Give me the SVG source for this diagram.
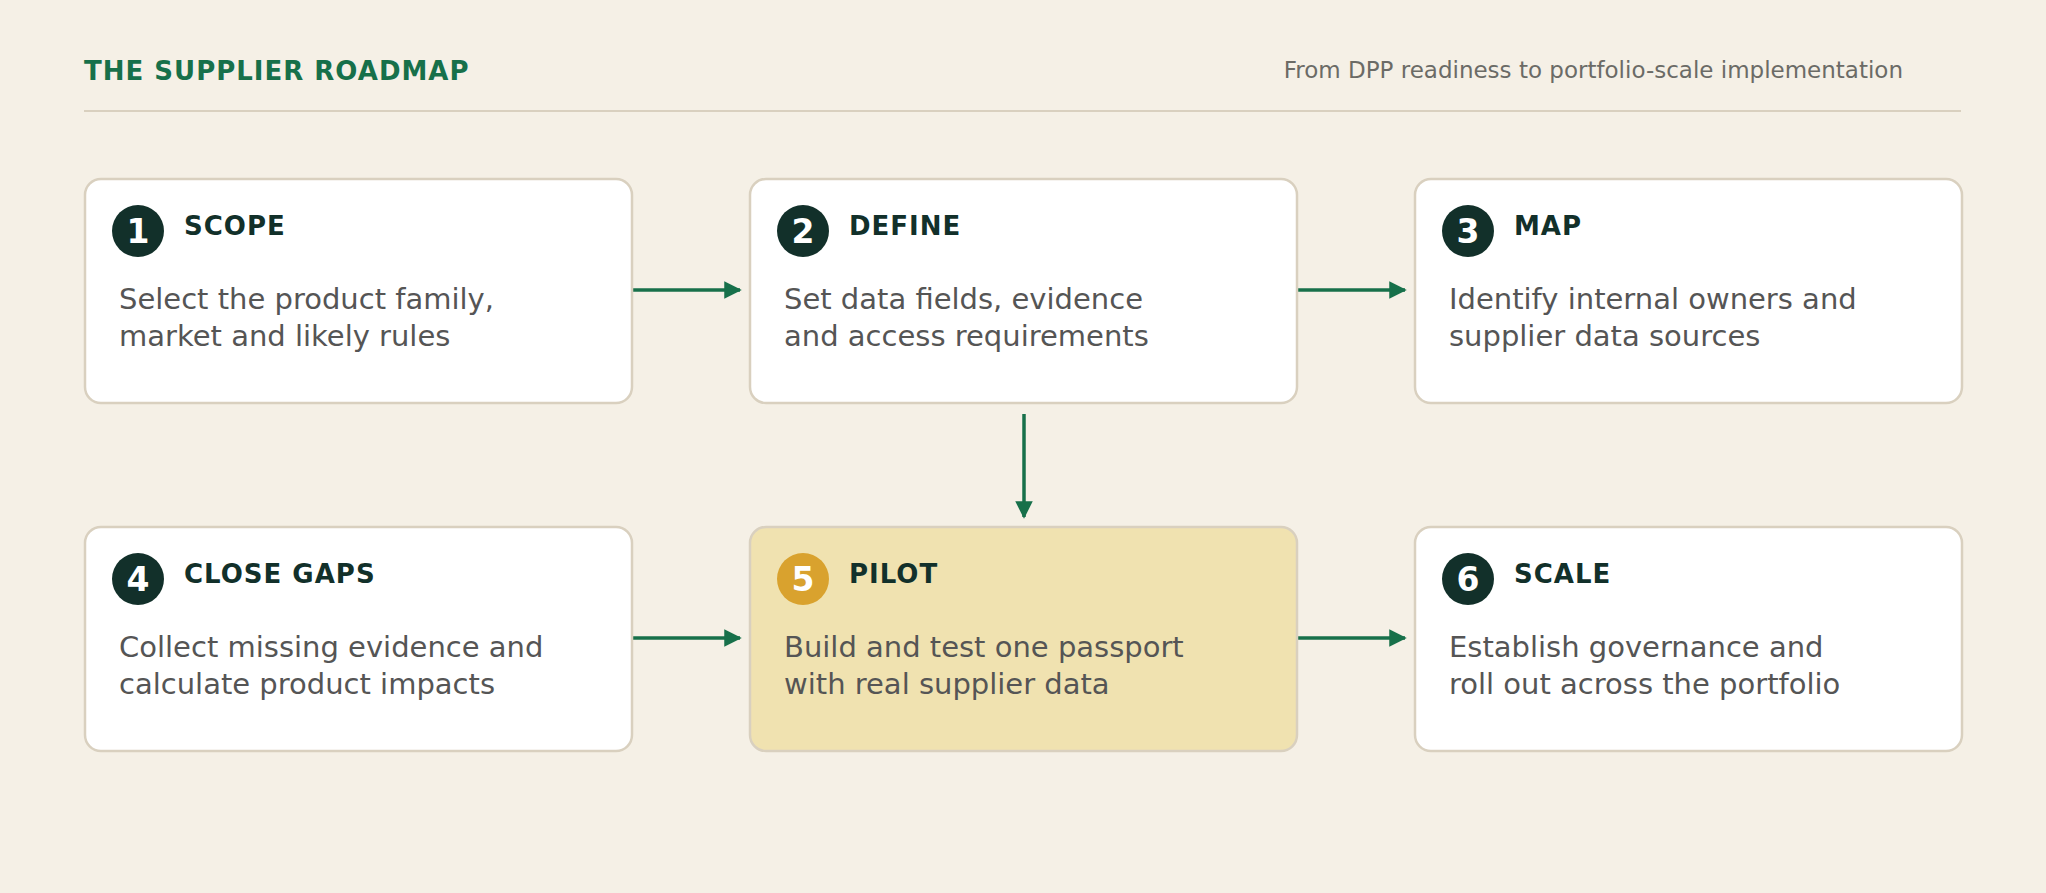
<svg xmlns="http://www.w3.org/2000/svg" width="2046" height="893" viewBox="0 0 2046 893">
<style>
text{font-family:"DejaVu Sans",sans-serif}
.box{fill:#fff;stroke:#D9D0BF;stroke-width:2.5}
.pilot{fill:#F0E2B0}
.num{fill:#fff;font-size:33px;font-weight:bold;text-anchor:middle}
.ttl{fill:#12302A;font-size:26px;font-weight:bold;letter-spacing:1px}
.body{fill:#555;font-size:29px}
.c{fill:#12302A}
.conn line{stroke:#17704A;stroke-width:3.5}
</style>
<defs><marker id="ah" viewBox="0 0 10 10" refX="9" refY="5" markerWidth="5" markerHeight="5" orient="auto" markerUnits="strokeWidth"><path d="M0,0L10,5L0,10z" fill="#17704A"/></marker></defs>
<rect width="2046" height="893" fill="#F5F0E6"/>
<text x="84" y="80" font-size="26" font-weight="bold" fill="#17704A" letter-spacing="1">THE SUPPLIER ROADMAP</text>
<text x="1903" y="78" font-size="23" fill="#6B6B66" text-anchor="end">From DPP readiness to portfolio-scale implementation</text>
<line x1="84" y1="111" x2="1961" y2="111" stroke="#D9D0BF" stroke-width="2"/>
<g class="conn">
<line x1="632" y1="290" x2="740" y2="290" marker-end="url(#ah)"/>
<line x1="1297" y1="290" x2="1405" y2="290" marker-end="url(#ah)"/>
<line x1="1024" y1="414" x2="1024" y2="517" marker-end="url(#ah)"/>
<line x1="632" y1="638" x2="740" y2="638" marker-end="url(#ah)"/>
<line x1="1297" y1="638" x2="1405" y2="638" marker-end="url(#ah)"/>
</g>
<g id="n1" transform="translate(85,179)"><rect class="box" width="547" height="224" rx="16"/><circle class="c" cx="53" cy="52" r="26"/><text class="num" x="53" y="64">1</text><text class="ttl" x="99" y="56">SCOPE</text><text class="body" x="34" y="130">Select the product family,</text><text class="body" x="34" y="167">market and likely rules</text></g>
<g id="n2" transform="translate(750,179)"><rect class="box" width="547" height="224" rx="16"/><circle class="c" cx="53" cy="52" r="26"/><text class="num" x="53" y="64">2</text><text class="ttl" x="99" y="56">DEFINE</text><text class="body" x="34" y="130">Set data fields, evidence</text><text class="body" x="34" y="167">and access requirements</text></g>
<g id="n3" transform="translate(1415,179)"><rect class="box" width="547" height="224" rx="16"/><circle class="c" cx="53" cy="52" r="26"/><text class="num" x="53" y="64">3</text><text class="ttl" x="99" y="56">MAP</text><text class="body" x="34" y="130">Identify internal owners and</text><text class="body" x="34" y="167">supplier data sources</text></g>
<g id="n4" transform="translate(85,527)"><rect class="box" width="547" height="224" rx="16"/><circle class="c" cx="53" cy="52" r="26"/><text class="num" x="53" y="64">4</text><text class="ttl" x="99" y="56">CLOSE GAPS</text><text class="body" x="34" y="130">Collect missing evidence and</text><text class="body" x="34" y="167">calculate product impacts</text></g>
<g id="n5" transform="translate(750,527)"><rect class="box pilot" width="547" height="224" rx="16"/><circle cx="53" cy="52" r="26" fill="#D9A22E"/><text class="num" x="53" y="64">5</text><text class="ttl" x="99" y="56">PILOT</text><text class="body" x="34" y="130">Build and test one passport</text><text class="body" x="34" y="167">with real supplier data</text></g>
<g id="n6" transform="translate(1415,527)"><rect class="box" width="547" height="224" rx="16"/><circle class="c" cx="53" cy="52" r="26"/><text class="num" x="53" y="64">6</text><text class="ttl" x="99" y="56">SCALE</text><text class="body" x="34" y="130">Establish governance and</text><text class="body" x="34" y="167">roll out across the portfolio</text></g>
</svg>
